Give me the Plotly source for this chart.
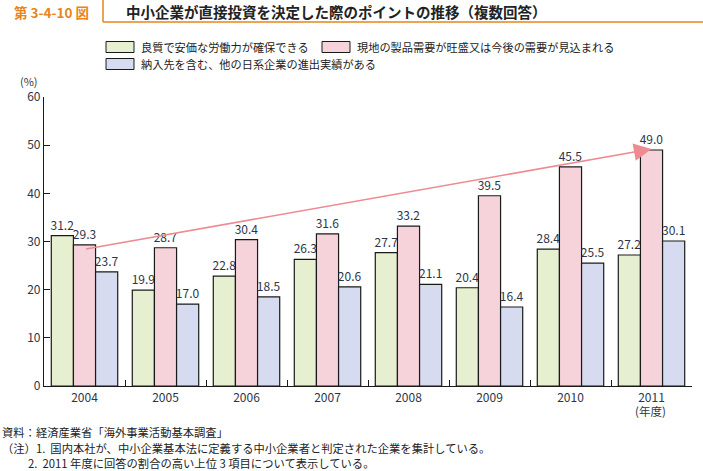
import plotly.graph_objects as go

years = ["2004", "2005", "2006", "2007", "2008", "2009", "2010", "2011"]
labour = [31.2, 19.9, 22.8, 26.3, 27.7, 20.4, 28.4, 27.2]
demand = [29.3, 28.7, 30.4, 31.6, 33.2, 39.5, 45.5, 49.0]
peers = [23.7, 17.0, 18.5, 20.6, 21.1, 16.4, 25.5, 30.1]
names = ["良質で安価な労働力が確保できる",
         "現地の製品需要が旺盛又は今後の需要が見込まれる",
         "納入先を含む、他の日系企業の進出実績がある"]
colors = ["#E6F0D0", "#F6D3DA", "#D6DBEF"]
yticks = [0, 10, 20, 30, 40, 50, 60]

FONT = "Noto Sans CJK JP"
TXT = "#2E3548"
ORANGE = "#E8841A"

W, H = 703, 471
L, R, T, B = 44, 11, 97, 85
pw, ph = W - L - R, H - T - B


def px(x):
    return (x - L) / pw


def py(y):
    return (H - B - y) / ph


fig = go.Figure()
for vals, nm, col in zip([labour, demand, peers], names, colors):
    fig.add_trace(go.Bar(
        x=years, y=vals, name=nm,
        marker=dict(color=col, line=dict(color="#1a1a1a", width=1.2)),
        text=[f"{v:.1f}" for v in vals], textposition="outside",
        textfont=dict(family=FONT, size=12, color=TXT),
        constraintext="none", cliponaxis=False, showlegend=False,
    ))

shapes = []
annotations = []

# header
shapes.append(dict(type="line", xref="paper", yref="paper",
                   x0=px(103), x1=px(703), y0=py(22), y1=py(22),
                   line=dict(color=ORANGE, width=1.5)))
shapes.append(dict(type="line", xref="paper", yref="paper",
                   x0=px(103), x1=px(103), y0=py(0), y1=py(22),
                   line=dict(color=ORANGE, width=1.5)))
annotations.append(dict(xref="paper", yref="paper", x=px(12), y=py(12),
                        xanchor="left", yanchor="middle", showarrow=False,
                        text="<b>第 3-4-10 図</b>",
                        font=dict(family=FONT, size=13.5, color=ORANGE)))
annotations.append(dict(xref="paper", yref="paper", x=px(124), y=py(12),
                        xanchor="left", yanchor="middle", showarrow=False,
                        text="<b>中小企業が直接投資を決定した際のポイントの推移（複数回答）</b>",
                        font=dict(family=FONT, size=14.5, color="#222222")))

# legend (manual)
legend_pos = [(106, 47, 139), (322, 47, 355), (106, 64, 139)]
for (bx, by, tx), nm, col in zip(legend_pos, names, colors):
    shapes.append(dict(type="rect", xref="paper", yref="paper",
                       x0=px(bx), x1=px(bx + 28), y0=py(by - 5.5), y1=py(by + 5.5),
                       fillcolor=col, line=dict(color="#1a1a1a", width=1)))
    annotations.append(dict(xref="paper", yref="paper", x=px(tx), y=py(by),
                            xanchor="left", yanchor="middle", showarrow=False,
                            text=nm, font=dict(family=FONT, size=11.2, color="#222222")))

# (%) label
annotations.append(dict(xref="paper", yref="paper", x=px(29), y=py(81),
                        xanchor="center", yanchor="middle", showarrow=False,
                        text="(%)", font=dict(family=FONT, size=11, color=TXT)))
# (年度)
annotations.append(dict(xref="paper", yref="paper", x=px(650), y=py(411),
                        xanchor="center", yanchor="middle", showarrow=False,
                        text="(年度)", font=dict(family=FONT, size=11.5, color=TXT)))

# trend arrow
annotations.append(dict(xref="x", yref="y", axref="x", ayref="y",
                        x=7, y=49.2, ax=0, ay=28.4, text="", showarrow=True,
                        arrowhead=2, arrowsize=2.2, arrowwidth=1.6,
                        arrowcolor="#EE8A92", standoff=0))

# footnotes
notes = [
    (0, 432, "資料：経済産業省「海外事業活動基本調査」"),
    (0, 448, "（注）1.  国内本社が、中小企業基本法に定義する中小企業者と判定された企業を集計している。"),
    (26, 463, "2.  2011 年度に回答の割合の高い上位 3 項目について表示している。"),
]
for x0, y0, t in notes:
    annotations.append(dict(xref="paper", yref="paper", x=px(x0), y=py(y0),
                            xanchor="left", yanchor="middle", showarrow=False,
                            text=t, font=dict(family=FONT, size=11.3, color="#222222")))

fig.update_layout(
    width=W, height=H,
    margin=dict(l=L, r=R, t=T, b=B),
    paper_bgcolor="white", plot_bgcolor="white",
    barmode="group", bargap=0.18, bargroupgap=0,
    shapes=shapes, annotations=annotations,
    font=dict(family=FONT, color=TXT),
    xaxis=dict(type="category", showline=True, linecolor="#1a1a1a", linewidth=1.2,
               ticks="inside", tickson="boundaries", ticklen=6, tickcolor="#1a1a1a",
               tickfont=dict(family=FONT, size=12, color=TXT), showgrid=False),
    yaxis=dict(range=[0, 60], tickvals=yticks, showline=True, linecolor="#1a1a1a",
               linewidth=1.2, ticks="inside", ticklen=6, tickcolor="#1a1a1a",
               tickfont=dict(family=FONT, size=12, color=TXT), showgrid=False,
               zeroline=False),
)

fig.write_html("out.html", config={"displayModeBar": False},
               post_script="document.body.style.margin='0';document.body.style.overflow='hidden';")
